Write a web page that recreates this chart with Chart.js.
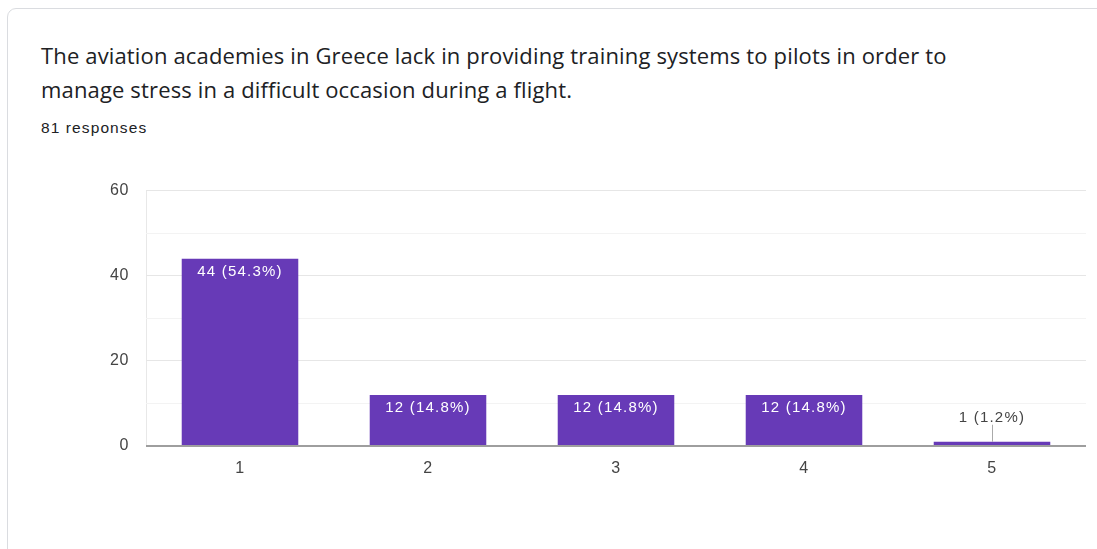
<!DOCTYPE html>
<html>
<head>
<meta charset="utf-8">
<script src="https://cdn.jsdelivr.net/npm/chart.js@4"></script>
<style>
    html, body { margin: 0; padding: 0; background: #fff; }
    body { width: 1097px; height: 549px; position: relative; overflow: hidden; }
    .card {
        position: absolute; left: 7px; top: 8px; width: 1110px; height: 560px;
        border: 1px solid #dadce0; border-radius: 9px; box-sizing: border-box;
    }
    .title {
        position: absolute; left: 41px; top: 38px; white-space: nowrap;
        font-family: "Open Sans", sans-serif; font-size: 22px; line-height: 34px;
        color: #202124; letter-spacing: 0.15px;
    }
    .count {
        position: absolute; left: 41px; top: 119px;
        font-family: "Liberation Sans", Arial, sans-serif; font-size: 15.5px;
        letter-spacing: 1.1px; color: #202124;
    }
    .plot { position: absolute; left: 0; top: 164px; width: 1097px; height: 385px; }
</style>
</head>
<body>
<div class="card"></div>
<div class="title">The aviation academies in Greece lack in providing training systems to pilots in order to<br>manage stress in a difficult occasion during a flight.</div>
<div class="count">81 responses</div>
<div class="plot"><canvas id="chart"></canvas></div>

<script>
const categories = ["1", "2", "3", "4", "5"];
const responses = [44, 12, 12, 12, 1];
const totalResponses = 81;
const yTicks = [0, 20, 40, 60];

const barColor = "#673ab7";
const axisFont = { family: "Liberation Sans, Arial, sans-serif", size: 16 };

// slightly wider text spacing for everything drawn on the canvas
const textSpacing = {
    id: "textSpacing",
    beforeInit(chart) { chart.ctx.letterSpacing = "0.6px"; },
    beforeDraw(chart) { chart.ctx.letterSpacing = "0.6px"; },
};

// count + percentage on each bar; small bars get the label above with a leader line
const barLabels = {
    id: "barLabels",
    afterDatasetsDraw(chart) {
        const ctx = chart.ctx;
        const meta = chart.getDatasetMeta(0);
        ctx.save();
        ctx.font = "15px " + axisFont.family;
        ctx.letterSpacing = "1.2px";
        ctx.textAlign = "center";
        ctx.textBaseline = "middle";
        meta.data.forEach((bar, i) => {
            const v = responses[i];
            const text = `${v} (${(v / totalResponses * 100).toFixed(1)}%)`;
            const h = bar.base - bar.y;
            if (h > 24) {
                ctx.fillStyle = "#ffffff";
                ctx.fillText(text, bar.x, bar.y + 13);
            } else {
                ctx.fillStyle = "#444444";
                ctx.fillText(text, bar.x, bar.y - 24);
                ctx.strokeStyle = "#aaaaaa";
                ctx.lineWidth = 1;
                ctx.beginPath();
                ctx.moveTo(bar.x + 0.5, bar.y - 17);
                ctx.lineTo(bar.x + 0.5, bar.y);
                ctx.stroke();
            }
        });
        ctx.restore();
    },
};

new Chart(document.getElementById("chart"), {
    type: "bar",
    data: {
        labels: categories,
        datasets: [{
            data: responses,
            backgroundColor: barColor,
            categoryPercentage: 0.62,
            barPercentage: 1,
        }],
    },
    options: {
        responsive: true,
        maintainAspectRatio: false,
        animation: false,
        layout: { padding: { top: 14, right: 11, left: 0, bottom: 0 } },
        plugins: {
            legend: { display: false },
            tooltip: { enabled: false },
        },
        scales: {
            x: {
                afterFit: (scale) => { scale.height = 103; },
                grid: {
                    offset: true,
                    drawTicks: false,
                    color: (c) => (c.index === 0 || c.index === categories.length ? "#e8e8e8" : "rgba(0,0,0,0)"),
                },
                border: { display: false },
                ticks: { color: "#444", font: axisFont, padding: 13 },
            },
            y: {
                min: 0,
                max: 60,
                afterFit: (scale) => { scale.width = 146; },
                afterBuildTicks: (scale) => {
                    scale.ticks = [0, 10, 20, 30, 40, 50, 60].map((v) => ({ value: v }));
                },
                grid: {
                    drawTicks: false,
                    color: (c) => {
                        const v = c.tick.value;
                        if (v === 0) return "#9e9e9e";
                        return yTicks.includes(v) ? "#e6e6e6" : "#f3f3f3";
                    },
                    lineWidth: (c) => (c.tick.value === 0 ? 2 : 1),
                },
                border: { display: false },
                ticks: {
                    color: "#444",
                    font: axisFont,
                    padding: 17,
                    callback: (v) => (yTicks.includes(v) ? v : ""),
                },
            },
        },
    },
    plugins: [textSpacing, barLabels],
});
</script>
</body>
</html>
